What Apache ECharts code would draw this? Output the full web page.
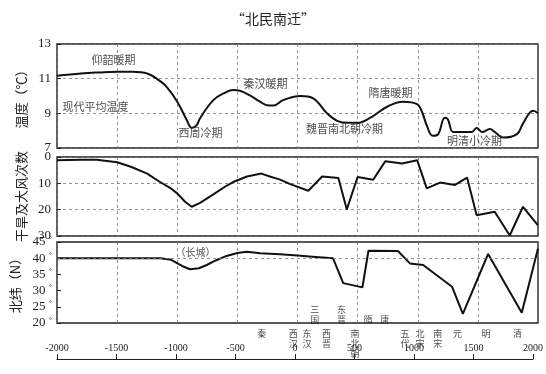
<!DOCTYPE html>
<html><head><meta charset="utf-8">
<script src="https://cdn.jsdelivr.net/npm/echarts@6/dist/echarts.min.js"></script>
<style>html,body{margin:0;padding:0;background:#fff}#c{width:546px;height:374px}</style>
</head><body><div id="c"></div>
<script>
// ---- data ----
const titleText = '“北民南迁”';
const yearTicks = [-2000, -1500, -1000, -500, 0, 500, 1000, 1500, 2000];

const tempYears  = [-2000,-1800,-1650,-1500,-1370,-1250,-1150,-1085,-1000,-920,-880,-840,-810,-700,-600,-535,-480,-400,-312,-255,-200,-120,25,130,245,330,420,500,600,745,877,995,1035,1075,1125,1170,1225,1250,1295,1375,1450,1490,1535,1600,1640,1710,1825,1875,1960,2000];
const tempValues = [11.17,11.3,11.36,11.4,11.4,11.3,10.9,10.5,9.67,8.6,8.16,8.3,8.72,9.76,10.2,10.34,10.3,10.05,9.67,9.47,9.45,9.76,10.0,9.87,9.0,8.57,8.45,8.45,8.72,9.38,9.67,9.53,9.09,8.3,7.7,7.8,8.75,8.66,7.93,7.93,7.93,8.16,7.93,8.09,7.93,7.6,7.8,8.41,9.15,9.0];

const droughtYears  = [-2000,-1800,-1670,-1500,-1380,-1250,-1150,-1060,-1000,-935,-880,-810,-700,-600,-535,-420,-300,-230,-145,-60,90,205,340,410,500,630,730,870,995,1075,1185,1310,1410,1490,1640,1765,1875,2000];
const droughtValues = [1.2,1.0,1.0,2.0,3.8,6.3,9.3,11.7,13.8,17,18.9,17.4,14.2,11.2,9.5,7.4,6.3,7.4,8.6,10.3,12.8,7.4,8.0,19.9,7.6,8.6,1.6,2.5,1.2,11.9,9.7,10.6,7.8,22.1,20.8,29.8,18.9,26];

const latYears  = [-2000,-1140,-1050,-960,-895,-820,-755,-680,-590,-500,-420,-310,-145,0,150,295,380,540,590,835,935,1045,1285,1375,1585,1865,2000];
const latValues = [40,40,39.5,37.6,36.6,36.9,37.9,39.3,40.7,41.6,42,41.5,41.2,40.8,40.4,40.0,32.3,31.0,42.3,42.2,38.4,37.9,31.2,22.8,41.3,23.2,43];

const tempNoteNames  = ['仰韶暖期','现代平均温度','西周冷期','秦汉暖期','魏晋南北朝冷期','隋唐暖期','明清小冷期'];
const tempNoteYears  = [-1530,-1680,-807,-266,391,773,1472];
const tempNoteValues = [12.08,9.36,7.86,10.69,8.1,10.17,7.4];

const latNoteNames  = ['（长城）'];
const latNoteYears  = [-848];
const latNoteValues = [41.9];

const dynastyNames = ['秦','西汉','东汉','三国','西晋','东晋','南北朝','隋','唐','五代','北宋','南宋','元','明','清'];
const dynastyYears = [-280,-15,100,165,265,390,505,615,755,925,1050,1200,1365,1605,1870];
const upperRowDynasties = ['三国','东晋','隋','唐'];

// ---- styles / layout ----
const CJK = 'Noto Sans CJK SC';
const SERIF = 'Liberation Serif';
const L = 57, W = 481;
const grids = [
  {left: L, width: W, top: 44, height: 104},
  {left: L, width: W, top: 157, height: 79},
  {left: L, width: W, top: 242, height: 81},
  {left: L, width: W, top: 300, height: 59}
];
const UPPER_ROW_Y = 34, LOWER_ROW_Y = 30;

const gridLine = {show: true, lineStyle: {type: [3, 3], color: '#777', width: 0.8}};
function panelX(i) {
  return {type: 'value', gridIndex: i, min: -2000, max: 2000, interval: 500,
    axisLabel: {show: false}, axisTick: {show: false}, axisLine: {show: false, onZero: false}, splitLine: gridLine};
}
function panelY(i, o) {
  return Object.assign({type: 'value', gridIndex: i, position: 'left', nameLocation: 'middle', nameRotate: 90, nameGap: 29,
    nameTextStyle: {fontFamily: CJK, fontSize: 13, color: '#222'},
    axisLine: {show: false, onZero: false},
    axisTick: {show: true, inside: true, length: 4, lineStyle: {color: '#222'}},
    axisLabel: {fontFamily: SERIF, fontSize: 13, color: '#222', margin: 6},
    splitLine: gridLine}, o);
}
function notes(names, years, vals, xi, size) {
  return {type: 'scatter', xAxisIndex: xi, yAxisIndex: xi, symbolSize: 0, silent: true, z: 5,
    data: names.map((n, i) => ({name: n, value: [years[i], vals[i]]})),
    label: {show: true, position: 'inside', formatter: p => p.name, fontFamily: CJK, fontSize: size, color: '#222'}};
}

const chart = echarts.init(document.getElementById('c'), null, {renderer: 'canvas'});
chart.setOption({
  backgroundColor: '#fff',
  animation: false,
  title: {text: titleText, left: 226, top: 7, textStyle: {fontFamily: CJK, fontSize: 14, fontWeight: 'normal', color: '#222'}},
  grid: grids.map((g, i) => Object.assign({show: i < 3, borderColor: '#222', borderWidth: 1.4, backgroundColor: 'transparent'}, g)),
  xAxis: [panelX(0), panelX(1), panelX(2), {
    type: 'value', gridIndex: 3, min: -2000, max: 2000, interval: 500, position: 'bottom',
    axisLine: {show: true, onZero: false, lineStyle: {color: '#222', width: 1.2}},
    axisTick: {show: true, inside: true, length: 5, lineStyle: {color: '#222'}},
    axisLabel: {inside: true, margin: 6, fontFamily: SERIF, fontSize: 10, color: '#222', formatter: v => String(v)},
    splitLine: {show: false}
  }],
  yAxis: [
    panelY(0, {min: 7, max: 13, interval: 2, name: '温度（℃）'}),
    panelY(1, {min: 0, max: 30, interval: 10, inverse: true, name: '干旱及大风次数'}),
    panelY(2, {min: 20, max: 45, interval: 5, name: '北纬（N）', splitLine: {show: false},
      axisLabel: {fontFamily: SERIF, fontSize: 13, color: '#222', margin: 5,
        formatter: v => '{n|' + v + '} {d|°}', rich: {n: {fontFamily: SERIF, fontSize: 13, color: '#222'}, d: {fontFamily: SERIF, fontSize: 8, color: '#222', verticalAlign: 'top'}}}}),
    {type: 'value', gridIndex: 3, min: 0, max: 59, show: false, axisLine: {show: false, onZero: false}}
  ],
  series: [
    {type: 'line', xAxisIndex: 0, yAxisIndex: 0, smooth: 0.4, symbol: 'none',
      lineStyle: {color: '#111', width: 2}, data: tempYears.map((y, i) => [y, tempValues[i]])},
    {type: 'line', xAxisIndex: 1, yAxisIndex: 1, smooth: false, symbol: 'none',
      lineStyle: {color: '#111', width: 2}, data: droughtYears.map((y, i) => [y, droughtValues[i]])},
    {type: 'line', xAxisIndex: 2, yAxisIndex: 2, smooth: false, symbol: 'none',
      lineStyle: {color: '#111', width: 2}, data: latYears.map((y, i) => [y, latValues[i]]),
      markLine: {silent: true, symbol: 'none', label: {show: false}, lineStyle: {type: [3, 3], color: '#777', width: 0.8}, data: [{yAxis: 40}]}},
    notes(tempNoteNames, tempNoteYears, tempNoteValues, 0, 11),
    notes(latNoteNames, latNoteYears, latNoteValues, 2, 10),
    {type: 'scatter', xAxisIndex: 3, yAxisIndex: 3, symbolSize: 0, silent: true, z: 5,
      data: dynastyNames.map((n, i) => {
        const up = upperRowDynasties.includes(n);
        return {name: n, value: [dynastyYears[i], up ? UPPER_ROW_Y : LOWER_ROW_Y],
          label: {position: up ? 'top' : 'bottom', distance: 0}};
      }),
      label: {show: true, formatter: p => p.name.split('').join('\n'), fontFamily: CJK, fontSize: 9, lineHeight: 10, color: '#222'}}
  ]
});
</script></body></html>
